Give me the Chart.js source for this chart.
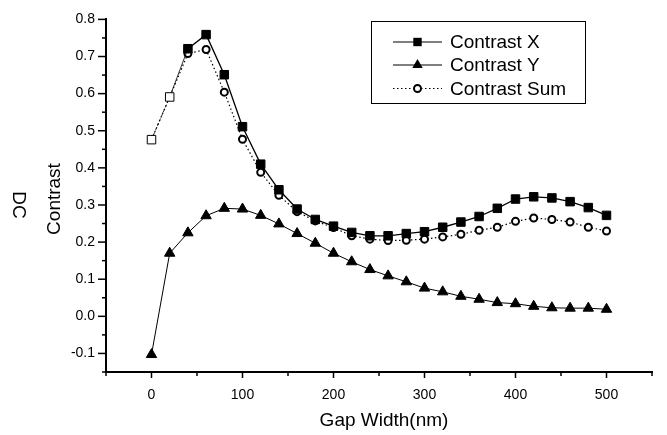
<!DOCTYPE html>
<html><head><meta charset="utf-8">
<script src="https://cdn.jsdelivr.net/npm/chart.js@4/dist/chart.umd.min.js"></script>
<style>html,body{margin:0;padding:0;background:#fff}#wrap{width:667px;height:435px}</style>
</head><body><div id="wrap"><canvas id="c" width="667" height="435"></canvas></div>
<script>
const gapWidth = [0,20,40,60,80,100,120,140,160,180,200,220,240,260,280,300,320,340,360,380,400,420,440,460,480,500];
const contrastX = [0.476,0.591,0.721,0.759,0.651,0.511,0.410,0.341,0.289,0.261,0.243,0.226,0.217,0.217,0.223,0.228,0.240,0.254,0.269,0.291,0.316,0.322,0.319,0.309,0.293,0.272];
const contrastY = [-0.103,0.170,0.225,0.271,0.291,0.289,0.272,0.249,0.223,0.197,0.170,0.147,0.126,0.109,0.093,0.076,0.066,0.054,0.046,0.037,0.034,0.027,0.023,0.022,0.022,0.019];
const contrastSum = [0.476,0.591,0.708,0.719,0.604,0.477,0.388,0.326,0.282,0.257,0.239,0.217,0.208,0.204,0.205,0.208,0.214,0.221,0.232,0.240,0.256,0.265,0.261,0.254,0.240,0.230];
const seriesNames = ['Contrast X','Contrast Y','Contrast Sum'];
const xTickLabels = [0,100,200,300,400,500];
const yTickLabels = [-0.1,0.0,0.1,0.2,0.3,0.4,0.5,0.6,0.7,0.8];
const xTitle = 'Gap Width(nm)';
const yTitleOuter = 'DC';
const yTitleInner = 'Contrast';

const FONT = "'Liberation Sans', Arial, Helvetica, sans-serif";
const pts = arr => gapWidth.map((g,i)=>({x:g,y:arr[i]}));

function isMultiple(v, step){ const r = Math.round(v/step)*step; return Math.abs(v-r) < 1e-6; }

function drawMarker(ctx, style, x, y){
  ctx.save();
  ctx.fillStyle = '#000'; ctx.strokeStyle = '#000';
  ctx.setLineDash([]);
  if (style === 'rect'){ ctx.fillRect(x-4.2,y-4.2,8.4,8.4); }
  else if (style === 'triangle'){
    const r = 6;
    ctx.beginPath();
    ctx.moveTo(x, y - r);
    ctx.lineTo(x + r*Math.sin(2*Math.PI/3), y - r*Math.cos(2*Math.PI/3));
    ctx.lineTo(x + r*Math.sin(4*Math.PI/3), y - r*Math.cos(4*Math.PI/3));
    ctx.closePath(); ctx.fill();
  } else {
    ctx.lineWidth = 2; ctx.fillStyle = '#fff';
    ctx.beginPath(); ctx.arc(x,y,3.5,0,Math.PI*2); ctx.fill(); ctx.stroke();
  }
  ctx.restore();
}

const decor = {
  id: 'decor',
  afterDraw(chart){
    const ctx = chart.ctx, xs = chart.scales.x, ys = chart.scales.y, ca = chart.chartArea;
    ctx.save();
    ctx.strokeStyle = '#000'; ctx.lineWidth = 1.5; ctx.setLineDash([]);
    // y ticks (outward)
    ys.ticks.forEach(t => {
      const p = ys.getPixelForValue(t.value);
      const len = isMultiple(t.value, 0.1) ? 8 : 4;
      ctx.beginPath(); ctx.moveTo(ca.left, p); ctx.lineTo(ca.left - len, p); ctx.stroke();
    });
    // x ticks (outward)
    xs.ticks.forEach(t => {
      const p = xs.getPixelForValue(t.value);
      const len = isMultiple(t.value, 100) ? 6 : 4;
      ctx.beginPath(); ctx.moveTo(p, ca.bottom); ctx.lineTo(p, ca.bottom + len); ctx.stroke();
    });
    // titles
    ctx.fillStyle = '#000';
    ctx.font = '19px ' + FONT;
    ctx.textAlign = 'center'; ctx.textBaseline = 'middle';
    ctx.fillText(xTitle, (ca.left+ca.right)/2 + 5, 421);
    ctx.save(); ctx.translate(55, 199); ctx.rotate(-Math.PI/2); ctx.fillText(yTitleInner, 0, 0); ctx.restore();
    ctx.save(); ctx.translate(18, 205); ctx.rotate(Math.PI/2); ctx.fillText(yTitleOuter, 0, 0); ctx.restore();
    // legend
    ctx.lineWidth = 1; ctx.strokeStyle = '#000';
    ctx.strokeRect(371.5, 21.5, 214, 82);
    const rows = [42, 65, 88.5];
    const styles = ['rect','triangle','circle'];
    const dashes = [[],[],[1.5,2.5]];
    ctx.font = '19px ' + FONT; ctx.textAlign = 'left';
    seriesNames.forEach((name,i) => {
      const y = rows[i];
      ctx.save(); ctx.lineWidth = 1.2; ctx.setLineDash(dashes[i]);
      ctx.beginPath(); ctx.moveTo(393, y); ctx.lineTo(442, y); ctx.stroke(); ctx.restore();
      drawMarker(ctx, styles[i], 417.5, y);
      ctx.fillStyle = '#000';
      ctx.fillText(name, 450, y + 1);
    });
    ctx.restore();
  }
};

new Chart(document.getElementById('c'), {
  type: 'line',
  data: {
    datasets: [
      { label: seriesNames[0], data: pts(contrastX), borderColor: '#000', borderWidth: 1.3,
        pointStyle: 'rect', pointRadius: 6,
        pointBackgroundColor: c => c.dataIndex < 2 ? '#fff' : '#000', pointBorderColor: '#000', pointBorderWidth: 1,
        segment: { borderDash: c => c.p0DataIndex < 1 ? [3,2] : undefined, borderWidth: c => c.p0DataIndex < 2 ? 0.8 : 1.3 } },
      { label: seriesNames[1], data: pts(contrastY), borderColor: '#000', borderWidth: 1,
        pointStyle: 'triangle', pointRadius: 6, pointBackgroundColor: '#000', pointBorderColor: '#000', pointBorderWidth: 1 },
      { label: seriesNames[2], data: pts(contrastSum), borderColor: '#000', borderWidth: 1.2, borderDash: [1.5,2.5],
        pointStyle: 'circle', pointRadius: c => c.dataIndex < 2 ? 0 : 3.5,
        pointBackgroundColor: '#fff', pointBorderColor: '#000', pointBorderWidth: 2 }
    ]
  },
  options: {
    responsive: false, animation: false, devicePixelRatio: 1,
    layout: { padding: { top: 10, right: 2, left: 0, bottom: 0 } },
    plugins: { legend: { display: false }, tooltip: { enabled: false } },
    elements: { line: { tension: 0 } },
    scales: {
      x: { type: 'linear', min: -50, max: 550,
        grid: { display: false, drawTicks: false },
        border: { display: true, color: '#000', width: 2 },
        ticks: { stepSize: 50, autoSkip: false, maxRotation: 0, padding: 15, color: '#000',
          font: { family: FONT, size: 14 },
          callback: v => xTickLabels.some(t => Math.abs(t - v) < 1e-6) ? String(Math.round(v)) : '' },
        afterFit(s){ s.height = 63; } },
      y: { type: 'linear', min: -0.15, max: 0.8,
        grid: { display: false, drawTicks: false },
        border: { display: true, color: '#000', width: 2 },
        ticks: { stepSize: 0.05, autoSkip: false, padding: 11, color: '#000',
          font: { family: FONT, size: 14 },
          callback: v => { const r = Math.round(v*10)/10; return (Math.abs(v - r) < 1e-6 && yTickLabels.some(t => Math.abs(t - r) < 1e-6)) ? r.toFixed(1) : ''; } },
        afterFit(s){ s.width = 106; } }
    }
  },
  plugins: [decor]
});
</script></body></html>
